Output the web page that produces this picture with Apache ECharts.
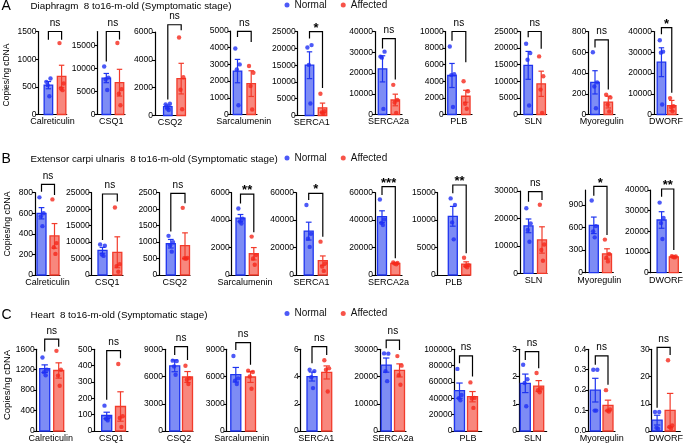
<!DOCTYPE html>
<html><head><meta charset="utf-8">
<script src="https://cdn.jsdelivr.net/npm/echarts@6/dist/echarts.min.js"></script>
<style>html,body{margin:0;padding:0;background:#fff}#c{width:685px;height:444px}</style>
</head><body><div id="c"></div>
<script>
const GENES = ['Calreticulin','CSQ1','CSQ2','Sarcalumenin','SERCA1','SERCA2a','PLB','SLN','Myoregulin','DWORF'];

// ---- A: Diaphragm ----
const diaNormal = [[590,650,530,330],[10400,8000,7600,5300],[800,850,500,400],[3950,3000,2700,550],[20300,21000,15100,3600],[27900,30300,27400,2700],[8200,4850,4750,900],[21300,18500,16500,2700],[600,310,270,60],[35800,30300,29800,4800]];
const diaAffected = [[1290,560,470,440],[15500,5500,4500,2000],[5600,2750,1850,450],[2900,2500,1700,300],[6500,1300,900,500],[14300,7000,5800,800],[4000,2800,1300,700],[17500,11500,7500,500],[190,165,95,30],[7900,4000,3500,1600]];
const diaNormalMean = [530,7900,640,2600,15000,22000,4700,14800,310,25200];
const diaNormalSem = [65,1000,110,700,4000,6300,1450,4200,112,6950];
const diaAffectedMean = [690,6900,2650,1850,2300,7000,2200,9250,120,4300];
const diaAffectedSem = [200,2900,1100,770,1400,2800,720,3800,57,2500];
const diaSig = ['ns','ns','ns','ns','*','ns','ns','ns','ns','*'];
const diaBracket = [[1500,1350,1350],[18000,11500,16250],[6520,1150,6120],[4980,4640,4340],[25000,23000,8200],[36600,31800,16900],[10000,8900,6300],[25000,23300,19800],[720,645,242],[41900,38700,10500]];
const diaYMax = [1500,18000,6000,5000,25000,40000,10000,25000,800,40000];
const diaYTicks = [[0,500,1000,1500],[0,5000,10000,15000],[0,2000,4000,6000],[0,1000,2000,3000,4000,5000],[0,5000,10000,15000,20000,25000],[0,10000,20000,30000,40000],[0,2000,4000,6000,8000,10000],[0,5000,10000,15000,20000,25000],[0,200,400,600,800],[0,10000,20000,30000,40000]];

// ---- B: Extensor carpi ulnaris ----
const ecuNormal = [[755,600,570,475],[9300,8900,6200,5800],[1190,1000,900,710],[4850,4100,3900,3750],[51000,30000,26500,20500],[55000,40500,38000,36500],[13960,12750,9590,6500],[23700,18200,15800,11500],[960,620,550,470],[33900,26500,24000,16300]];
const ecuAffected = [[735,310,270,205],[20500,3300,2700,1000],[2040,520,510,490],[2800,1450,1200,750],[24300,8500,6200,3000],[9200,8800,8300,7800],[3150,1800,1650,1400],[25000,10500,8500,4600],[440,250,200,150],[8000,7800,7600,7400]];
const ecuNormalMean = [600,7500,950,4150,32000,42500,10700,17300,630,25500];
const ecuNormalSem = [55,900,130,260,6500,4300,1800,2500,110,4000];
const ecuAffectedMean = [380,6900,890,1550,10500,8500,2000,12150,250,7700];
const ecuAffectedSem = [120,4700,390,450,3400,400,400,4800,68,150];
const ecuSig = ['ns','ns','ns','**','*','***','**','ns','*','**'];
const ecuBracket = [[881,810,777],[24600,10600,22300],[2480,1320,2180],[5900,5220,3110],[59500,54700,27900],[64400,58300,12150],[16400,14900,3950],[29760,26100,26700],[1147,1023,503],[40480,36750,10980]];
const ecuYMax = [800,25000,2500,6000,60000,60000,15000,30000,1100,40000];
const ecuYTicks = [[0,200,400,600,800],[0,5000,10000,15000,20000,25000],[0,500,1000,1500,2000,2500],[0,2000,4000,6000],[0,20000,40000,60000],[0,20000,40000,60000],[0,5000,10000,15000],[0,10000,20000,30000],[0,300,600,900],[0,10000,20000,30000,40000]];

// ---- C: Heart ----
const heartNormal = [[1440,1200,1150,1090],[155,85,75,65],[7750,7700,7100,6200],[8270,5800,5550,5180],[4.5,4.4,3.95,3.15],[28500,28400,22000,18300],[76000,44000,40000,37500],[2.43,1.9,1.76,0.91],[0.3,0.3,0.1,0.1],[7.0,7.0,1.2,0.8]];
const heartAffected = [[1570,1200,1085,885],[410,90,80,25],[7180,5800,5650,5170],[6650,6500,6000,4650],[5.2,4.6,4.5,2.9],[27500,24000,20500,17000],[59500,40500,39700,28300],[2.13,1.55,1.5,1.42],[0.2,0.105,0.1,0.095],[26,2.0,1.5,0.9]];
const heartNormalMean = [1220,95,7180,6200,4.0,24200,49400,1.75,0.2,4.0];
const heartNormalSem = [75,20,650,800,0.33,2600,9300,0.34,0.058,1.8];
const heartAffectedMean = [1185,150,5950,5950,4.3,22250,42000,1.65,0.125,7.6];
const heartAffectedSem = [150,90,600,600,0.48,2400,6300,0.2,0.026,6.2];
const heartSig = ['ns','ns','ns','ns','ns','ns','ns','ns','ns','ns'];
const heartBracket = [[1800,1555,1650],[492,192,445],[9290,8380,7830],[9730,8930,7290],[6.19,4.98,5.59],[33400,30360,29760],[91900,83000,66800],[2.915,2.611,2.308],[0.368,0.324,0.227],[30.7,8.5,27.9]];
const heartYMax = [1600,500,9000,9000,6,30000,100000,3,0.4,30];
const heartYTicks = [[0,400,800,1200,1600],[0,100,200,300,400,500],[0,3000,6000,9000],[0,3000,6000,9000],[0,2,4,6],[0,10000,20000,30000],[0,20000,40000,60000,80000,100000],[0,1,2,3],[0,0.1,0.2,0.3,0.4],[0,10,20,30]];

const ROW_TITLES = ['Diaphragm  8 to16-m-old (Symptomatic stage)','Extensor carpi ulnaris  8 to16-m-old (Symptomatic stage)','Heart  8 to16-m-old (Symptomatic stage)'];
const ROW_LETTERS = ['A','B','C'];
const Y_TITLE = 'Copies/ng cDNA';
const SERIES_NAMES = ['Normal','Affected'];

const ROWS = [
  {normal:diaNormal, affected:diaAffected, nMean:diaNormalMean, nSem:diaNormalSem, aMean:diaAffectedMean, aSem:diaAffectedSem, sig:diaSig, bracket:diaBracket, yMax:diaYMax, yTicks:diaYTicks},
  {normal:ecuNormal, affected:ecuAffected, nMean:ecuNormalMean, nSem:ecuNormalSem, aMean:ecuAffectedMean, aSem:ecuAffectedSem, sig:ecuSig, bracket:ecuBracket, yMax:ecuYMax, yTicks:ecuYTicks},
  {normal:heartNormal, affected:heartAffected, nMean:heartNormalMean, nSem:heartNormalSem, aMean:heartAffectedMean, aSem:heartAffectedSem, sig:heartSig, bracket:heartBracket, yMax:heartYMax, yTicks:heartYTicks}
];

// ---- layout (pixels) ----
const LAYOUT = [
  { zeroY:[114.5,114.5,115.5,114.5,115.5,114.5,114.5,114.5,114.5,114.5],
    topY:[31.5,31.5,32,31,31.7,31.5,31.5,31.5,31.5,31.5],
    ax:[38.5,97.5,155,230.7,297.7,375,445.7,520,588.3,654],
    bc:[48.4,106.3,167.8,237.5,309.5,382.5,452,528.2,595,663.3],
    rc:[61.6,119.5,181.2,251.2,322.5,395.3,465.8,541.2,608.3,676.2],
    xe:[66.7,125,185,257,326,402,472,546.7,615,684], barW:8.5 },
  { zeroY:[275,275,275,275,275,275,275,273.3,272.7,272.7],
    topY:[192.7,192.7,192.7,192.7,192.7,192.7,192.7,191,190,190],
    ax:[35,91.7,159.3,231.7,296,375,437.7,520,585,650.7],
    bc:[41.5,102.5,170.8,240.5,308.7,382,452.8,528.5,593.8,662.3],
    rc:[54.5,117.3,185,253.8,322.8,395.3,466.2,542,607,675.3],
    xe:[60,123,190,258.3,327,402,470,547,613.3,683.3], barW:9 },
  { zeroY:[431.7,431.7,431.7,431.7,431.7,431.7,431.7,431.7,431.7,431.7],
    topY:[349.3,349.3,349.3,349.3,349.3,349.3,349.3,349.3,349.3,349.3],
    ax:[36.7,94.3,165,226.7,300.7,380,454.5,519,588.3,651.7],
    bc:[44.7,106.7,174.7,235.8,312,386.2,459.5,525.3,595.3,657.8],
    rc:[58.7,120.5,187.5,250.5,326.7,399.5,472.5,538.7,608,672.5],
    xe:[65,128,193,257,332,406,481.7,546.7,615,684], barW:10 }
];
const TITLE_Y = [6.5, 159.5, 315];
const YTITLE_POS = [[7, 75, 8.5], [7.3, 224, 8.8], [7, 385, 9.5]];
const JITTER = [-0.16, 0.16, -0.05, 0.07];

const FF = '"Liberation Sans", Arial, Helvetica, sans-serif';
const COL = [
  {fill:'#7d8cf5', stroke:'#1f35ef', dot:'#1f2ff5'},
  {fill:'#f8877d', stroke:'#f23b2b', dot:'#f5281c'}
];

const grids=[], xAxes=[], yAxes=[], series=[];

function barRenderer(barW){
  return function(params, api){
    const x = api.value(0), m = api.value(1), s = api.value(2);
    const c = COL[x < 0.5 ? 0 : 1];
    const base = api.coord([x, 0]), top = api.coord([x, m]);
    const hi = api.coord([x, m + s]), lo = api.coord([x, Math.max(0, m - s)]);
    const cap = barW * 0.32;
    return {type:'group', children:[
      {type:'rect', shape:{x: base[0]-barW/2, y: top[1], width: barW, height: base[1]-top[1]}, style:{fill:c.fill, stroke:c.stroke, lineWidth:1.3}},
      {type:'line', shape:{x1:hi[0], y1:hi[1], x2:lo[0], y2:lo[1]}, style:{stroke:c.stroke, lineWidth:1.2}},
      {type:'line', shape:{x1:hi[0]-cap, y1:hi[1], x2:hi[0]+cap, y2:hi[1]}, style:{stroke:c.stroke, lineWidth:1.2}},
      {type:'line', shape:{x1:lo[0]-cap, y1:lo[1], x2:lo[0]+cap, y2:lo[1]}, style:{stroke:c.stroke, lineWidth:1.2}}
    ]};
  };
}
function bracketRenderer(sig){
  return function(params, api){
    const top = api.value(1), l = api.value(2), r = api.value(3);
    const pTL = api.coord([0, top]), pTR = api.coord([1, top]);
    const pL = api.coord([0, l]), pR = api.coord([1, r]);
    const isStar = sig.indexOf('*') >= 0;
    return {type:'group', children:[
      {type:'polyline', shape:{points:[pL, pTL, pTR, pR]}, style:{stroke:'#000', lineWidth:1.2, fill:null}},
      {type:'text', x:(pTL[0]+pTR[0])/2, y: pTL[1] - (isStar ? 3.5 : 8.3),
       style:{text:sig, align:'center', verticalAlign:'middle', fontSize: isStar ? 13 : 10, fontWeight: isStar ? 'bold' : 'normal', fontFamily:FF, fill:'#000'}}
    ]};
  };
}

ROWS.forEach((row, r) => {
  const L = LAYOUT[r];
  for (let p = 0; p < 10; p++) {
    const idx = grids.length;
    const ax = L.ax[p], bc = L.bc[p], rc = L.rc[p], xe = L.xe[p];
    const u = rc - bc, xmin = -(bc - ax) / u, xmax = xmin + (xe - ax) / u;
    const ymax = row.yMax[p], ticks = row.yTicks[p];
    grids.push({left:ax, top:L.topY[p], width:xe-ax, height:L.zeroY[p]-L.topY[p]});
    xAxes.push({gridIndex:idx, type:'value', min:xmin, max:xmax,
      axisLine:{show:true, onZero:false, lineStyle:{color:'#000', width:1.2}},
      axisTick:{show:false}, axisLabel:{show:false}, splitLine:{show:false},
      name:GENES[p], nameLocation:'middle', nameGap:3,
      nameTextStyle:{fontSize:9, color:'#000', fontFamily:FF, verticalAlign:'top'}});
    yAxes.push({gridIndex:idx, type:'value', min:0, max:ymax,
      axisLine:{show:true, onZero:false, lineStyle:{color:'#000', width:1.2}},
      axisTick:{show:true, length:3, customValues:ticks, lineStyle:{color:'#000', width:1.1}},
      axisLabel:{customValues:ticks, fontSize:8.5, color:'#000', margin:2, fontFamily:FF,
        formatter: v => ymax < 1 ? Number(v).toFixed(1) : String(v)},
      splitLine:{show:false}});
    series.push({type:'custom', xAxisIndex:idx, yAxisIndex:idx, z:2, silent:true,
      renderItem: barRenderer(L.barW), encode:{x:0, y:1},
      data:[[0, row.nMean[p], row.nSem[p]], [1, row.aMean[p], row.aSem[p]]]});
    series.push({type:'scatter', name:SERIES_NAMES[0], xAxisIndex:idx, yAxisIndex:idx, z:4, symbol:'circle', symbolSize:4.4, clip:false,
      itemStyle:{color:COL[0].dot}, data: row.normal[p].map((v,i)=>[JITTER[i], v])});
    series.push({type:'scatter', name:SERIES_NAMES[1], xAxisIndex:idx, yAxisIndex:idx, z:4, symbol:'circle', symbolSize:4.4, clip:false,
      itemStyle:{color:COL[1].dot}, data: row.affected[p].map((v,i)=>[1+JITTER[i], v])});
    const b = row.bracket[p];
    series.push({type:'custom', xAxisIndex:idx, yAxisIndex:idx, z:5, silent:true, clip:false,
      renderItem: bracketRenderer(row.sig[p]), encode:{x:0, y:1},
      data:[[0.5, b[0], b[1], b[2]]]});
  }
});

const legends = TITLE_Y.map(cy => ({
  data:[{name:SERIES_NAMES[0], icon:'circle'}, {name:SERIES_NAMES[1], icon:'circle'}],
  left:284.5, top:cy-6.5, padding:0, itemWidth:5, itemHeight:5, itemGap:14, selectedMode:false,
  textStyle:{fontSize:10, color:'#111', fontFamily:FF}
}));

const graphic = [];
TITLE_Y.forEach((cy, r) => {
  graphic.push({type:'text', x:1.5, y:cy, style:{text:ROW_LETTERS[r], fontSize:14, fontFamily:FF, fill:'#000', verticalAlign:'middle'}});
  graphic.push({type:'text', x:30.5, y:cy, style:{text:ROW_TITLES[r], fontSize:9.8, fontFamily:FF, fill:'#000', verticalAlign:'middle'}});
  const yp = YTITLE_POS[r];
  graphic.push({type:'text', x:yp[0], y:yp[1], rotation:Math.PI/2, style:{text:Y_TITLE, fontSize:yp[2], fontFamily:FF, fill:'#000', align:'center', verticalAlign:'middle'}});
});

const chart = echarts.init(document.getElementById('c'), null, {renderer:'canvas'});
chart.setOption({
  animation:false,
  backgroundColor:'#fff',
  textStyle:{fontFamily:FF},
  grid:grids, xAxis:xAxes, yAxis:yAxes, series:series,
  legend:legends, graphic:graphic
});
</script>
</body></html>
